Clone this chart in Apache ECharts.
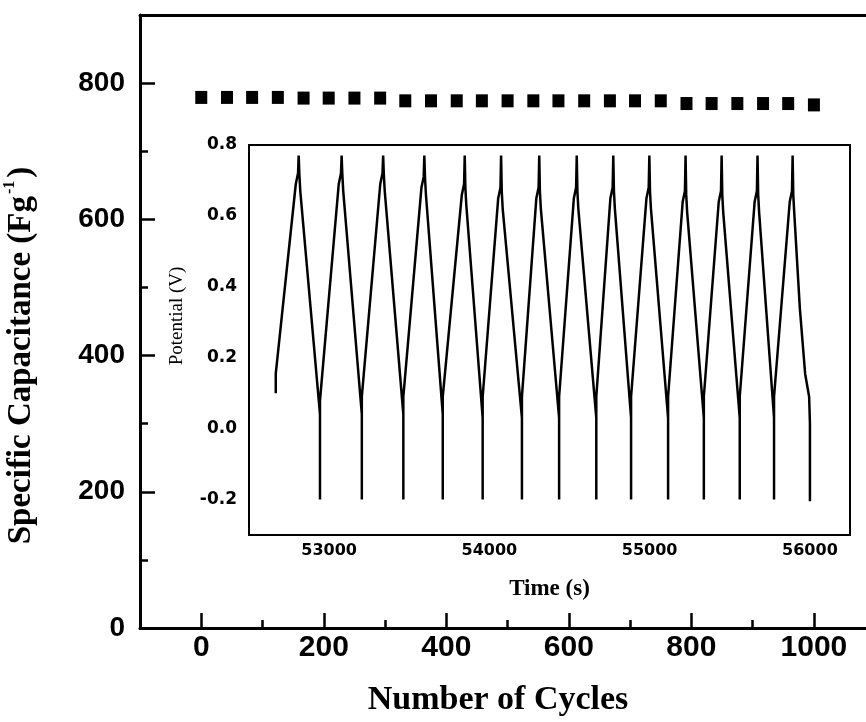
<!DOCTYPE html>
<html><head><meta charset="utf-8">
<script src="https://cdn.jsdelivr.net/npm/echarts@6/dist/echarts.min.js"></script>
<style>html,body{margin:0;padding:0;background:#fff}#c{width:866px;height:722px}</style>
</head><body><div id="c"></div>
<script>
// ---- main chart data ----
const cycles = [0, 42, 83, 125, 167, 208, 250, 292, 333, 375, 417, 458, 500, 542, 583, 625, 667, 708, 750, 792, 833, 875, 917, 958, 1000];
const capacitance = [779, 779, 779, 779, 778, 778, 778, 778, 774, 774, 774, 774, 774, 774, 774, 774, 774, 774, 774, 770, 770, 770, 770, 770, 768];
const mainXMajor = [0, 200, 400, 600, 800, 1000];
const mainXMinor = [100, 300, 500, 700, 900];
const mainYMajor = [0, 200, 400, 600, 800];
const mainYMinor = [100, 300, 500, 700];

// ---- inset (charge/discharge curve) data ----
const insetXMajor = [53000, 54000, 55000, 56000];
const insetXMinor = [53500, 54500, 55500];
const insetYMajor = [-0.2, 0, 0.2, 0.4, 0.6, 0.8];
const insetYMinor = [-0.1, 0.1, 0.3, 0.5, 0.7];

const startTime = 52667;
const startV = [0.10, 0.155];
const peakTimes = [52810, 53078, 53337, 53594, 53846, 54073, 54311, 54545, 54773, 54998, 55224, 55449, 55673, 55892];
const peakV = [0.77, 0.77, 0.77, 0.77, 0.77, 0.77, 0.77, 0.77, 0.77, 0.77, 0.77, 0.77, 0.77, 0.77];
const riseEndV = [0.69, 0.69, 0.69, 0.68, 0.66, 0.65, 0.65, 0.65, 0.65, 0.65, 0.64, 0.64, 0.64, 0.64];
const fallStartV = [0.67, 0.67, 0.67, 0.66, 0.63, 0.62, 0.62, 0.62, 0.62, 0.62, 0.61, 0.61, 0.61, 0.61];
const dropTimes = [52943, 53204, 53463, 53709, 53958, 54203, 54435, 54667, 54884, 55115, 55338, 55562, 55776];
const fallEndV = [0.04, 0.04, 0.04, 0.04, 0.03, 0.03, 0.03, 0.03, 0.03, 0.03, 0.03, 0.03, 0.03];
const dropV = [-0.2, -0.2, -0.2, -0.2, -0.2, -0.2, -0.2, -0.2, -0.2, -0.2, -0.2, -0.2, -0.2];
const restartV = [0.08, 0.09, 0.09, 0.09, 0.09, 0.09, 0.09, 0.09, 0.09, 0.09, 0.09, 0.09, 0.09];
const lastFallT = [55937, 55970, 55995, 56000, 56000];
const lastFallV = [0.34, 0.155, 0.09, 0.015, -0.205];

// build the polyline vertices from the arrays above
const wave = [[startTime, startV[0]], [startTime, startV[1]]];
for (let i = 0; i < peakTimes.length; i++) {
  const tp = peakTimes[i];
  wave.push([tp - 18, riseEndV[i]], [tp - 4, riseEndV[i] + 0.03], [tp, peakV[i]], [tp + 4, fallStartV[i] + 0.05], [tp + 10, fallStartV[i]]);
  if (i < dropTimes.length) {
    const td = dropTimes[i];
    wave.push([td, fallEndV[i]], [td, dropV[i]], [td, restartV[i]]);
  }
}
for (let j = 0; j < lastFallT.length; j++) wave.push([lastFallT[j], lastFallV[j]]);

const scatterData = cycles.map((c, i) => [c, capacitance[i]]);

const black = '#000';
const sansBold = {color: black, fontFamily: 'Liberation Sans', fontWeight: 'bold'};
const insetBold = {color: black, fontFamily: 'DejaVu Sans', fontWeight: 'bold'};
const plain = v => String(v);

const chart = echarts.init(document.getElementById('c'), null, {renderer: 'canvas'});
chart.setOption({
  animation: false,
  backgroundColor: '#fff',
  grid: [
    {left: 140, top: 15, right: 0, bottom: 94, containLabel: false, outerBoundsMode: 'none'},
    {left: 249, top: 145, width: 601, height: 390, show: true, borderColor: black, borderWidth: 2, backgroundColor: '#fff', z: 3, containLabel: false, outerBoundsMode: 'none'}
  ],
  xAxis: [
    {gridIndex: 0, type: 'value', min: -100, max: 1085, position: 'bottom',
     axisLine: {show: true, onZero: false, lineStyle: {color: black, width: 3}},
     axisTick: {show: true, inside: true, length: 15, customValues: mainXMajor, lineStyle: {color: black, width: 2.5}},
     axisLabel: Object.assign({customValues: mainXMajor, fontSize: 30, margin: 5, formatter: plain}, sansBold),
     splitLine: {show: false},
     name: 'Number of Cycles', nameLocation: 'middle', nameGap: 55,
     nameTextStyle: {fontFamily: 'Liberation Serif', fontWeight: 'bold', fontSize: 34, color: black, padding: [0, 10, 0, 0]}},
    {gridIndex: 0, type: 'value', min: -100, max: 1085, position: 'bottom',
     axisLine: {show: false, onZero: false},
     axisTick: {show: true, inside: true, length: 8, customValues: mainXMinor, lineStyle: {color: black, width: 2.5}},
     axisLabel: {show: false}, splitLine: {show: false}},
    {gridIndex: 0, type: 'value', min: -100, max: 1085, position: 'top',
     axisLine: {show: true, onZero: false, lineStyle: {color: black, width: 3}},
     axisTick: {show: false}, axisLabel: {show: false}, splitLine: {show: false}},
    {gridIndex: 1, type: 'value', min: 52500, max: 56250, position: 'bottom',
     axisLine: {show: true, onZero: false, lineStyle: {color: black, width: 2}},
     axisTick: {show: true, inside: true, length: 6, customValues: insetXMajor, lineStyle: {color: black, width: 2}},
     axisLabel: Object.assign({customValues: insetXMajor, fontSize: 16, margin: 8, formatter: plain}, insetBold),
     splitLine: {show: false},
     name: 'Time (s)', nameLocation: 'middle', nameGap: 43,
     nameTextStyle: {fontFamily: 'Liberation Serif', fontWeight: 'bold', fontSize: 23, color: black}},
    {gridIndex: 1, type: 'value', min: 52500, max: 56250, position: 'bottom',
     axisLine: {show: false, onZero: false},
     axisTick: {show: true, inside: true, length: 4, customValues: insetXMinor, lineStyle: {color: black, width: 1.5}},
     axisLabel: {show: false}, splitLine: {show: false}}
  ],
  yAxis: [
    {gridIndex: 0, type: 'value', min: 0, max: 900, position: 'left',
     axisLine: {show: true, onZero: false, lineStyle: {color: black, width: 3}},
     axisTick: {show: true, inside: true, length: 15, customValues: mainYMajor, lineStyle: {color: black, width: 2.5}},
     axisLabel: Object.assign({customValues: mainYMajor, fontSize: 28, margin: 15}, sansBold),
     splitLine: {show: false},
     name: '{t|Specific Capacitance (Fg}{s|-1}{t|)}', nameLocation: 'middle', nameGap: 100,
     nameTextStyle: {padding: [0, 68, 0, 0], rich: {
       t: {fontFamily: 'Liberation Serif', fontWeight: 'bold', fontSize: 33, color: black, lineHeight: 38},
       s: {fontFamily: 'Liberation Serif', fontWeight: 'bold', fontSize: 16, color: black, lineHeight: 16, verticalAlign: 'top', padding: [0, 3, 0, 2]}
     }}},
    {gridIndex: 0, type: 'value', min: 0, max: 900, position: 'left',
     axisLine: {show: false, onZero: false},
     axisTick: {show: true, inside: true, length: 8, customValues: mainYMinor, lineStyle: {color: black, width: 2.5}},
     axisLabel: {show: false}, splitLine: {show: false}},
    {gridIndex: 1, type: 'value', min: -0.3, max: 0.8, position: 'left',
     axisLine: {show: true, onZero: false, lineStyle: {color: black, width: 2}},
     axisTick: {show: true, inside: true, length: 6, customValues: insetYMajor, lineStyle: {color: black, width: 2}},
     axisLabel: Object.assign({customValues: insetYMajor, fontSize: 17, margin: 12, formatter: v => v.toFixed(1)}, insetBold),
     splitLine: {show: false},
     name: 'Potential (V)', nameLocation: 'middle', nameGap: 62,
     nameTextStyle: {fontFamily: 'Liberation Serif', fontSize: 19, color: black, padding: [0, 0, 0, 48]}},
    {gridIndex: 1, type: 'value', min: -0.3, max: 0.8, position: 'left',
     axisLine: {show: false, onZero: false},
     axisTick: {show: true, inside: true, length: 4, customValues: insetYMinor, lineStyle: {color: black, width: 1.5}},
     axisLabel: {show: false}, splitLine: {show: false}}
  ],
  series: [
    {type: 'scatter', xAxisIndex: 0, yAxisIndex: 0, data: scatterData,
     symbol: 'rect', symbolSize: [12, 13], itemStyle: {color: black, opacity: 1}},
    {type: 'line', xAxisIndex: 3, yAxisIndex: 2, data: wave, showSymbol: false, symbol: 'none',
     lineStyle: {color: black, width: 2.5}, z: 5}
  ]
});
</script></body></html>
